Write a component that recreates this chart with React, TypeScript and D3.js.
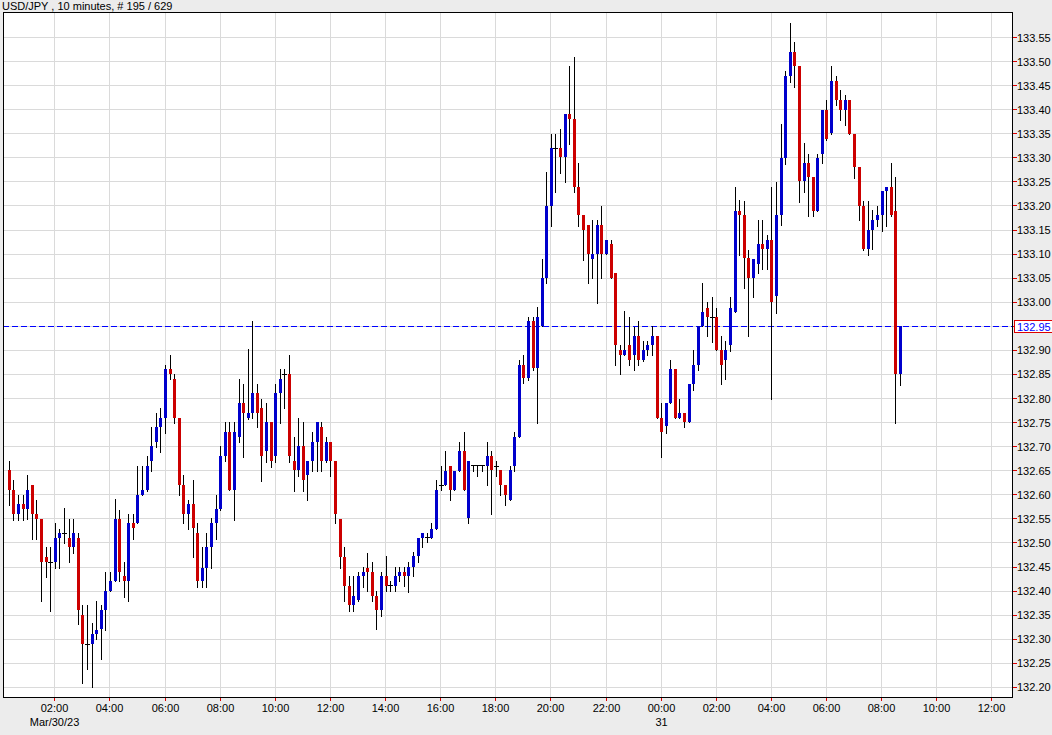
import React from "react";
import * as d3 from "d3";

const title = "USD/JPY , 10 minutes, # 195 / 629";
const startTime = Date.UTC(2023, 2, 30, 0, 20);
const stepMs = 10 * 60 * 1000;
const lastPrice = 132.95;

const opens = [
132.652,132.610,132.560,132.581,132.570,132.620,132.560,132.550,132.471,132.460,
132.461,132.510,132.520,132.510,132.492,132.510,132.350,132.290,132.291,132.311,
132.321,132.361,132.400,132.421,132.550,132.431,132.421,132.542,132.542,132.599,
132.610,132.670,132.710,132.740,132.759,132.861,132.840,132.759,132.620,132.561,
132.581,132.521,132.421,132.449,132.492,132.542,132.570,132.680,132.731,132.611,
132.721,132.791,132.760,132.770,132.812,132.780,132.691,132.751,132.680,132.811,
132.850,132.851,132.671,132.651,132.701,132.641,132.671,132.710,132.740,132.671,
132.710,132.671,132.550,132.471,132.410,132.371,132.381,132.431,132.449,132.439,
132.390,132.361,132.431,132.411,132.411,132.431,132.440,132.431,132.451,132.472,
132.511,132.511,132.511,132.530,132.620,132.620,132.660,132.610,132.650,132.691,
132.551,132.660,132.660,132.660,132.660,132.681,132.658,132.652,132.620,132.590,
132.660,132.721,132.870,132.842,132.962,132.863,132.951,133.051,133.200,133.320,
133.320,133.301,133.391,133.381,133.240,133.181,133.161,133.089,133.100,133.161,
133.100,133.121,133.060,132.901,132.891,132.911,132.890,132.930,132.880,132.901,
132.911,132.930,132.759,132.742,132.790,132.861,132.759,132.769,132.752,132.830,
132.870,132.950,132.989,132.969,132.969,132.901,132.880,132.911,132.979,133.190,
133.181,133.091,133.051,133.079,133.121,133.111,133.129,133.012,133.181,133.299,
133.470,133.519,133.491,133.251,133.289,133.261,133.190,133.309,133.399,133.351,
133.460,133.420,133.399,133.420,133.349,133.282,133.200,133.110,133.150,133.171,
133.182,133.231,133.240,133.190,132.851];

const highs = [
132.671,132.631,132.600,132.600,132.641,132.620,132.589,132.550,132.492,132.492,
132.542,132.530,132.572,132.550,132.550,132.520,132.371,132.371,132.333,132.380,
132.371,132.440,132.440,132.591,132.568,132.461,132.560,132.561,132.660,132.660,
132.680,132.740,132.769,132.780,132.870,132.890,132.851,132.759,132.641,132.590,
132.631,132.542,132.492,132.520,132.551,132.599,132.701,132.752,132.752,132.752,
132.840,132.831,132.902,132.961,132.831,132.800,132.790,132.751,132.830,132.861,
132.861,132.890,132.721,132.759,132.752,132.671,132.730,132.751,132.751,132.721,
132.710,132.671,132.550,132.492,132.431,132.431,132.440,132.451,132.480,132.460,
132.401,132.440,132.472,132.421,132.451,132.451,132.451,132.461,132.482,132.511,
132.520,132.520,132.541,132.631,132.660,132.692,132.660,132.650,132.709,132.730,
132.670,132.660,132.660,132.660,132.709,132.691,132.670,132.652,132.620,132.660,
132.731,132.880,132.891,132.970,132.970,132.991,133.089,133.271,133.350,133.350,
133.359,133.391,133.491,133.510,133.290,133.181,133.161,133.171,133.171,133.200,
133.130,133.130,133.060,132.911,132.981,132.970,132.949,132.961,132.920,132.920,
132.950,132.930,132.790,132.790,132.880,132.861,132.800,132.769,132.830,132.901,
132.950,133.039,133.000,133.010,132.989,132.930,132.920,133.010,133.240,133.212,
133.210,133.109,133.090,133.171,133.171,133.140,133.240,133.249,133.370,133.480,
133.581,133.541,133.491,133.330,133.309,133.261,133.309,133.399,133.420,133.491,
133.470,133.441,133.431,133.420,133.349,133.282,133.210,133.211,133.191,133.200,
133.231,133.240,133.290,133.261,132.950];

const lows = [
132.579,132.548,132.548,132.548,132.550,132.508,132.508,132.379,132.430,132.359,
132.449,132.449,132.499,132.460,132.480,132.331,132.210,132.239,132.200,132.300,
132.260,132.320,132.400,132.421,132.421,132.388,132.379,132.508,132.541,132.599,
132.609,132.650,132.700,132.689,132.729,132.840,132.750,132.599,132.541,132.530,
132.471,132.409,132.409,132.409,132.449,132.509,132.568,132.670,132.611,132.548,
132.710,132.679,132.757,132.759,132.740,132.629,132.669,132.658,132.669,132.750,
132.780,132.669,132.608,132.639,132.608,132.590,132.650,132.650,132.650,132.669,
132.639,132.541,132.449,132.380,132.359,132.359,132.380,132.409,132.401,132.380,
132.321,132.348,132.401,132.401,132.401,132.421,132.411,132.399,132.431,132.461,
132.491,132.501,132.511,132.530,132.610,132.620,132.589,132.610,132.650,132.610,
132.541,132.650,132.640,132.650,132.620,132.560,132.640,132.599,132.579,132.590,
132.650,132.721,132.832,132.839,132.859,132.750,132.951,133.039,133.159,133.230,
133.269,133.249,133.329,133.230,133.159,133.088,133.039,133.050,132.999,133.050,
133.100,133.050,132.870,132.851,132.891,132.870,132.859,132.870,132.879,132.890,
132.890,132.759,132.679,132.729,132.790,132.759,132.759,132.740,132.752,132.818,
132.859,132.950,132.929,132.918,132.901,132.830,132.840,132.899,132.979,133.098,
133.029,132.930,133.010,133.060,133.070,133.070,132.800,132.978,133.160,133.287,
133.458,133.448,133.209,133.230,133.180,133.180,133.189,133.289,133.337,133.350,
133.410,133.379,133.368,133.349,133.259,133.170,133.109,133.098,133.110,133.159,
133.148,133.159,133.180,132.750,132.828];

const closes = [
132.610,132.560,132.581,132.570,132.610,132.560,132.550,132.461,132.461,132.460,
132.510,132.520,132.520,132.492,132.520,132.361,132.291,132.290,132.311,132.320,
132.361,132.400,132.421,132.550,132.440,132.421,132.541,132.532,132.599,132.610,
132.660,132.701,132.740,132.759,132.861,132.851,132.759,132.620,132.561,132.581,
132.532,132.421,132.449,132.492,132.542,132.570,132.680,132.731,132.611,132.731,
132.791,132.770,132.770,132.812,132.770,132.680,132.751,132.671,132.811,132.840,
132.850,132.680,132.651,132.701,132.631,132.671,132.710,132.751,132.671,132.710,
132.671,132.560,132.471,132.410,132.371,132.390,132.431,132.439,132.439,132.390,
132.361,132.431,132.411,132.411,132.431,132.440,132.431,132.451,132.472,132.511,
132.520,132.511,132.530,132.610,132.620,132.650,132.610,132.650,132.691,132.610,
132.670,132.660,132.660,132.660,132.681,132.652,132.658,132.620,132.599,132.651,
132.721,132.870,132.842,132.962,132.863,132.970,133.051,133.200,133.320,133.320,
133.301,133.391,133.381,133.240,133.181,133.150,133.100,133.100,133.161,133.100,
133.130,133.050,132.911,132.891,132.901,132.880,132.930,132.880,132.901,132.911,
132.930,132.759,132.731,132.790,132.861,132.759,132.769,132.752,132.830,132.870,
132.950,132.979,132.970,132.969,132.901,132.870,132.901,132.989,133.190,133.181,
133.091,133.051,133.090,133.121,133.111,133.129,133.001,133.181,133.299,133.470,
133.519,133.491,133.251,133.289,133.261,133.190,133.299,133.399,133.340,133.460,
133.420,133.399,133.420,133.349,133.282,133.200,133.110,133.150,133.171,133.182,
133.231,133.240,133.182,132.851,132.950];

const priceTicks = d3.range(0, 28).map((i) => +(132.2 + i * 0.05).toFixed(2));

const FONT = "'Liberation Sans', Arial, sans-serif";

export default function App() {
  const plot = { l: 3, t: 12, r: 1012, b: 697 };
  const x = d3
    .scaleUtc()
    .domain([new Date(Date.UTC(2023, 2, 30, 2, 0)), new Date(Date.UTC(2023, 2, 31, 12, 0))])
    .range([54.8, 54.8 + 17 * 55.12]);
  const y = d3.scaleLinear().domain([132.2, 133.55]).range([687.4, 37.5]);
  const timeTicks = d3.utcHour
    .every(2)!
    .range(new Date(Date.UTC(2023, 2, 30, 2, 0)), new Date(Date.UTC(2023, 2, 31, 12, 1)));
  const fmt = d3.utcFormat("%H:%M");
  const crisp = (v: number) => Math.floor(v) + 0.5;

  const candles = opens.map((o, i) => ({
    t: new Date(startTime + i * stepMs),
    o,
    h: highs[i],
    l: lows[i],
    c: closes[i],
  }));

  const yLast = crisp(y(lastPrice));

  return (
    <svg
      width={1052}
      height={735}
      style={{ position: "absolute", left: 0, top: 0, background: "#ececec" }}
      fontFamily={FONT}
    >
      <rect x={0} y={0} width={1052} height={735} fill="#ececec" />
      <text x={2} y={10} fontSize={11} fill="#000">
        {title}
      </text>
      <rect x={plot.l + 0.5} y={plot.t + 0.5} width={plot.r - plot.l} height={plot.b - plot.t} fill="#fff" />
      {priceTicks.map((p) => (
        <line key={"hg" + p} x1={plot.l} x2={plot.r} y1={crisp(y(p))} y2={crisp(y(p))} stroke="#dadada" strokeWidth={1} />
      ))}
      {timeTicks.map((t) => (
        <line key={"vg" + t.getTime()} x1={crisp(x(t))} x2={crisp(x(t))} y1={plot.t} y2={plot.b} stroke="#dadada" strokeWidth={1} />
      ))}
      <line x1={plot.l} x2={plot.r} y1={yLast} y2={yLast} stroke="#0000ff" strokeWidth={1} strokeDasharray="6,3" />
      {candles.map((d, i) => {
        const cx = Math.round(x(d.t));
        const up = d.c >= d.o;
        const doji = Math.abs(d.c - d.o) < 0.004;
        const yt = y(Math.max(d.o, d.c));
        const yb = y(Math.min(d.o, d.c));
        return (
          <g key={i}>
            <line x1={cx + 0.5} x2={cx + 0.5} y1={Math.round(y(d.h))} y2={Math.round(y(d.l)) + 1} stroke="#000" strokeWidth={1} />
            {doji ? (
              <line x1={cx - 2} x2={cx + 3} y1={crisp(yt)} y2={crisp(yt)} stroke="#000" strokeWidth={1} />
            ) : (
              <rect
                x={cx - 1}
                y={Math.round(yt)}
                width={3}
                height={Math.max(1, Math.round(yb) - Math.round(yt))}
                fill={up ? "#0000cc" : "#cc0000"}
              />
            )}
          </g>
        );
      })}
      <rect x={plot.l + 0.5} y={plot.t + 0.5} width={plot.r - plot.l} height={plot.b - plot.t} fill="none" stroke="#000" strokeWidth={1} />
      {priceTicks.map((p) => (
        <g key={"yt" + p}>
          <line x1={plot.r + 1} x2={plot.r + 5} y1={crisp(y(p))} y2={crisp(y(p))} stroke="#dd0000" strokeWidth={1} />
          {p !== lastPrice && (
            <text x={plot.r + 5} y={y(p) + 4} fontSize={11} fill="#000">
              {p.toFixed(2)}
            </text>
          )}
        </g>
      ))}
      <rect x={1014.5} y={yLast - 6} width={40} height={12} fill="#fff" stroke="#dd0000" strokeWidth={1} />
      <text x={plot.r + 5} y={yLast + 4} fontSize={11} fill="#0000ff">
        {lastPrice.toFixed(2)}
      </text>
      {timeTicks.map((t) => {
        const tx = crisp(x(t));
        const isMidnight = t.getUTCHours() === 0;
        const isFirst = t.getTime() === timeTicks[0].getTime();
        return (
          <g key={"xt" + t.getTime()}>
            <line x1={tx} x2={tx} y1={plot.b + 1} y2={plot.b + 4} stroke="#dd0000" strokeWidth={1} />
            <text x={tx} y={712} fontSize={11} textAnchor="middle" fill="#000">
              {fmt(t)}
            </text>
            {isFirst && (
              <text x={tx} y={726} fontSize={11} textAnchor="middle" fill="#000">
                Mar/30/23
              </text>
            )}
            {isMidnight && (
              <text x={tx} y={726} fontSize={11} textAnchor="middle" fill="#000">
                {d3.utcFormat("%d")(t)}
              </text>
            )}
          </g>
        );
      })}
    </svg>
  );
}
